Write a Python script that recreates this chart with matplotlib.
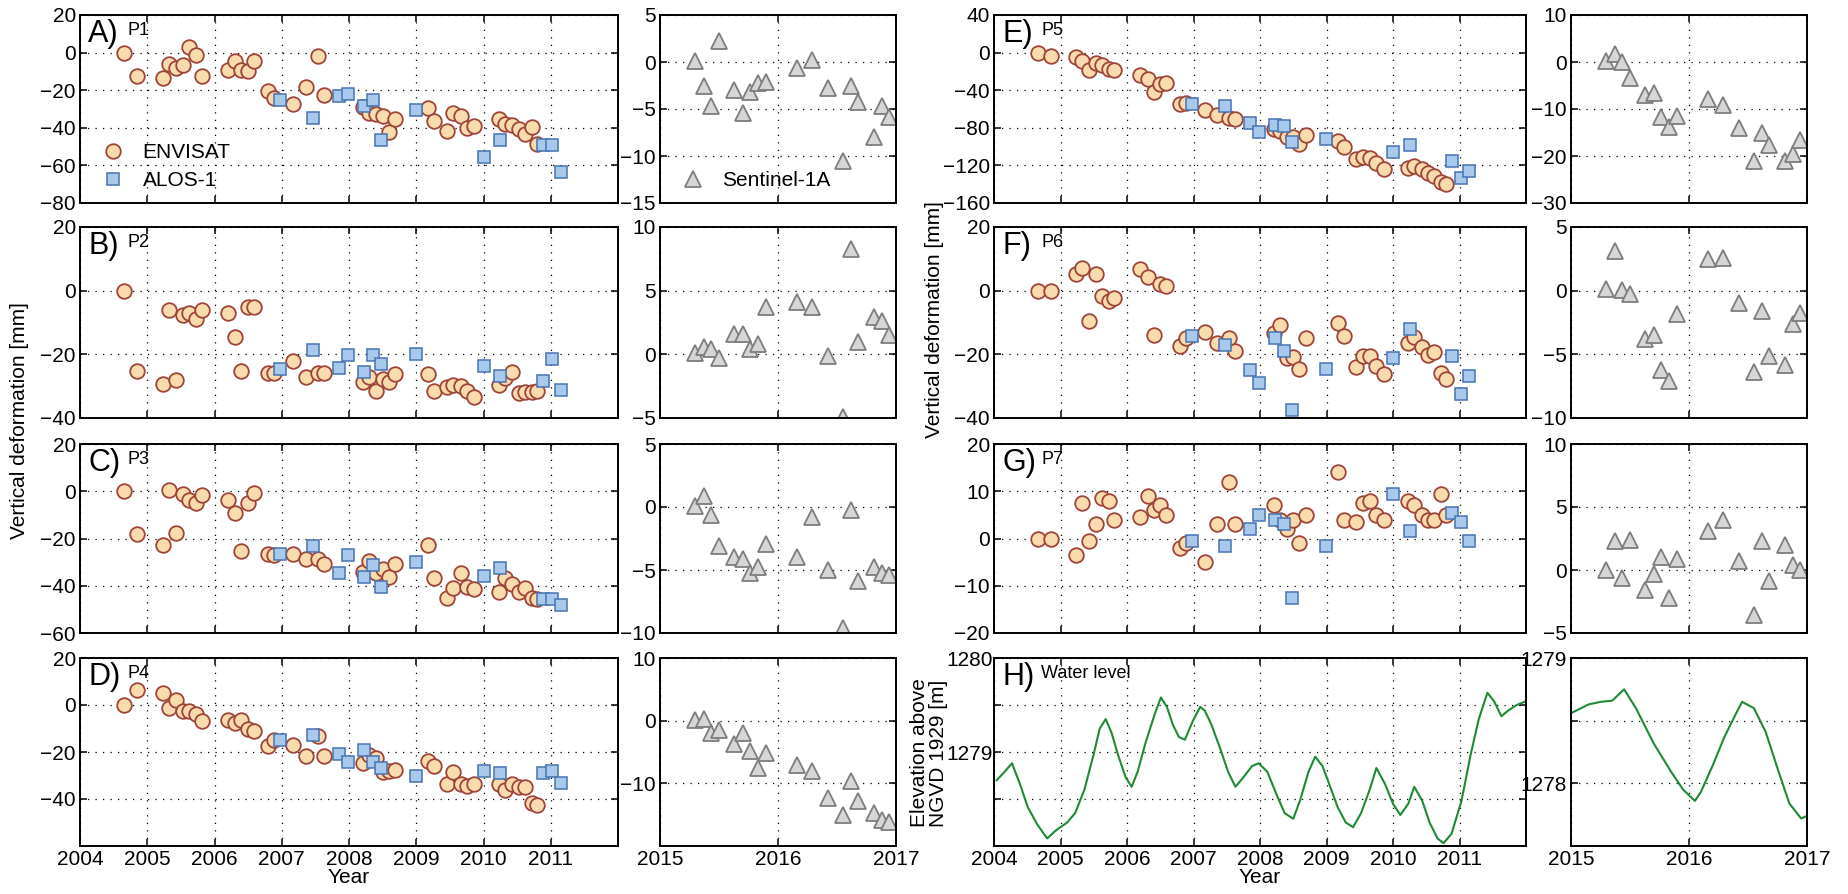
import matplotlib.pyplot as plt

plt.rcParams['font.family'] = ['Liberation Sans', 'DejaVu Sans']

# acquisition times (decimal years)
env_t = [2004.66, 2004.85, 2005.24, 2005.33, 2005.43, 2005.53, 2005.62, 2005.73, 2005.81,
         2006.20, 2006.31, 2006.40, 2006.50, 2006.59, 2006.79, 2006.88, 2007.17, 2007.36,
         2007.54, 2007.63, 2008.21, 2008.30, 2008.40, 2008.50, 2008.59, 2008.69, 2009.18,
         2009.27, 2009.45, 2009.55, 2009.66, 2009.75, 2009.86, 2010.23, 2010.32, 2010.43,
         2010.53, 2010.62, 2010.72, 2010.80]
alos_t = [2006.98, 2007.47, 2007.85, 2007.98, 2008.23, 2008.36, 2008.48, 2008.99,
          2010.00, 2010.25, 2010.88, 2011.02, 2011.15]
s1_t = [2015.30, 2015.37, 2015.43, 2015.50, 2015.63, 2015.70, 2015.76, 2015.83, 2015.90,
        2016.16, 2016.29, 2016.42, 2016.55, 2016.62, 2016.68, 2016.81, 2016.88, 2016.94]

# ENVISAT vertical deformation [mm]
env_p1 = [0, -12.5, -13.3, -6.3, -8, -6.8, 3, -1.4, -12.2, -9.5, -4.7, -9.1, -9.9, -4.7,
          -20.6, -24.4, -27.4, -18.1, -2, -22.6, -28.7, -31.9, -32.8, -33.7, -42.3, -35.5,
          -29.7, -36.4, -41.8, -31.9, -33.7, -40, -39, -35.5, -38.2, -38.7, -40.9, -43.5,
          -39.6, -48.4]
env_p2 = [0, -25.1, -29.4, -6.2, -28.1, -7.8, -7, -8.8, -6.1, -7, -14.4, -25.3, -5, -5,
          -25.8, -25.8, -22.1, -27.1, -26, -26, -28.6, -27, -31.6, -27.6, -28.6, -26.1,
          -26.1, -31.6, -30.2, -29.7, -30.1, -31.6, -33.5, -29.7, -27.3, -25.4, -32.1,
          -31.8, -31.8, -31.6]
env_p3 = [0.1, -17.9, -22.9, 0.4, -17.5, -1, -3.9, -5, -1.4, -3.9, -9.3, -25.1, -5, -0.7,
          -26.4, -26.8, -26.4, -28.7, -28.6, -30.7, -34, -29.4, -34.7, -32.8, -36.4, -30.7,
          -22.9, -36.6, -45, -40.9, -34.7, -40.4, -41.4, -42.6, -36.8, -39.4, -42.8, -41.1,
          -45.2, -45.8]
env_p4 = [0, 6.3, 5.3, -1.1, 2, -2.6, -2.6, -4, -6.6, -6.4, -7.6, -6.4, -10.1, -11.1,
          -17.6, -15.1, -16.9, -21.9, -13.3, -21.9, -24.7, -21.1, -22.6, -28.3, -27.9,
          -27.6, -24, -25.9, -33.6, -28.3, -33.6, -34.4, -33.6, -33.6, -36.1, -33.6, -34.7,
          -34.7, -41.6, -42.6]
env_p5 = [-0.4, -3.6, -4.7, -8.6, -18.3, -11.1, -13.6, -17.2, -18, -23.3, -28, -42.4,
          -33.4, -32.3, -54.9, -53.9, -61, -66.8, -69.3, -70.4, -81.1, -83.7, -89.8, -90.1,
          -96.9, -87.2, -94.4, -100.5, -113.4, -110.6, -112.4, -117.8, -123.9, -123.1,
          -120.3, -124.2, -128.5, -131, -137.5, -140]
env_p6 = [-0.2, -0.2, 5.2, 7.2, -9.5, 5.2, -1.6, -3.4, -2.2, 6.8, 4.3, -13.8, 2.2, 1.6,
          -17.4, -15, -12.9, -16.3, -14.8, -18.8, -13.2, -10.8, -21, -20.8, -24.5, -14.8,
          -10.2, -14.3, -24, -20.6, -20.4, -23.7, -26.3, -16.3, -14.5, -17.7, -20.2, -19.4,
          -26, -27.6]
env_p7 = [0, 0, -3.5, 7.5, -0.5, 3, 8.5, 8, 4, 4.5, 9, 6, 7, 5, -2, -1, -5, 3, 12, 3,
          7, 4, 2, 4, -1, 5, 14, 4, 3.5, 7.5, 8, 5, 4, 8, 7, 5, 4, 4, 9.5, 5]

# ALOS-1 vertical deformation [mm]
alos_p1 = [-25.1, -34.6, -23.3, -22.0, -28.3, -25.3, -46.6, -30.5, -55.5, -46.6, -49.3, -48.9, -63.5]
alos_p2 = [-24.6, -18.5, -24.4, -20.1, -25.4, -20.1, -23.0, -19.9, -23.7, -26.7, -28.4, -21.6, -31.3]
alos_p3 = [-26.5, -23.2, -34.7, -26.9, -36.1, -31.3, -40.5, -30.0, -35.7, -32.5, -45.8, -45.8, -48.3]
alos_p4 = [-14.7, -12.6, -20.9, -24.4, -19.3, -24.4, -26.6, -30.4, -28.0, -29.0, -29.0, -28.0, -33.0]
alos_p5 = [-55.0, -56.7, -74.7, -84.8, -76.5, -77.6, -95.2, -92.0, -106.0, -98.0, -114.8, -133.5, -125.6]
alos_p6 = [-14.2, -17.0, -24.9, -29.0, -14.8, -19.1, -37.6, -24.5, -21.0, -12.0, -20.4, -32.6, -26.9]
alos_p7 = [-0.5, -1.5, 2.0, 5.0, 4.0, 3.0, -12.5, -1.5, 9.5, 1.5, 5.5, 3.5, -0.5]

# Sentinel-1A vertical deformation [mm]
s1_p1 = [0.1, -2.5, -4.7, 2.2, -3.0, -5.4, -3.2, -2.2, -2.1, -0.6, 0.25, -2.8, -10.5, -2.6, -4.3, -8.0, -4.7, -5.8]
s1_p2 = [0.13, 0.6, 0.45, -0.3, 1.6, 1.6, 0.45, 0.8, 3.7, 4.1, 3.7, -0.1, -4.9, 8.25, 0.95, 2.9, 2.65, 1.5]
s1_p3 = [0.08, 0.9, -0.6, -3.1, -4.0, -4.1, -5.2, -4.8, -2.9, -4.0, -0.8, -5.0, -9.6, -0.2, -5.9, -4.75, -5.2, -5.4]
s1_p4 = [0.1, 0.3, -2.0, -1.5, -3.8, -1.9, -4.9, -7.5, -5.2, -7.1, -8.1, -12.4, -15.0, -9.6, -12.8, -14.7, -15.9, -16.2]
s1_p5 = [0.2, 1.6, 0.1, -3.5, -7.0, -6.7, -11.8, -13.9, -11.5, -7.9, -9.1, -14.0, -21.1, -15.0, -17.6, -21.1, -19.6, -16.5]
s1_p6 = [0.1, 3.15, 0.05, -0.3, -3.8, -3.45, -6.2, -7.1, -1.8, 2.5, 2.6, -1.0, -6.4, -1.6, -5.15, -5.8, -2.6, -1.75]
s1_p7 = [0.0, 2.3, -0.6, 2.4, -1.6, -0.3, 1.0, -2.2, 0.9, 3.1, 4.0, 0.7, -3.6, 2.3, -0.9, 2.0, 0.4, 0.0]

# water level [m above NGVD 1929]
wl_t = [2004.04, 2004.16, 2004.27, 2004.39, 2004.51, 2004.65, 2004.80, 2004.92, 2005.10,
        2005.22, 2005.36, 2005.50, 2005.59, 2005.68, 2005.77, 2005.86, 2005.98, 2006.07,
        2006.16, 2006.28, 2006.42, 2006.51, 2006.60, 2006.69, 2006.78, 2006.87, 2006.99,
        2007.10, 2007.17, 2007.27, 2007.40, 2007.52, 2007.63, 2007.75, 2007.88, 2007.98,
        2008.11, 2008.23, 2008.37, 2008.50, 2008.60, 2008.73, 2008.83, 2008.94, 2009.04,
        2009.17, 2009.29, 2009.40, 2009.52, 2009.65, 2009.75, 2009.88, 2010.00, 2010.11,
        2010.23, 2010.32, 2010.44, 2010.55, 2010.67, 2010.76, 2010.88, 2011.03, 2011.17,
        2011.29, 2011.42, 2011.52, 2011.63, 2011.73, 2011.86, 2012.00]
wl_h = [1278.70, 1278.79, 1278.88, 1278.66, 1278.41, 1278.23, 1278.08, 1278.16, 1278.25,
        1278.35, 1278.60, 1278.98, 1279.25, 1279.35, 1279.20, 1278.98, 1278.73, 1278.63,
        1278.79, 1279.10, 1279.41, 1279.58, 1279.48, 1279.29, 1279.16, 1279.13, 1279.33,
        1279.48, 1279.44, 1279.29, 1279.04, 1278.79, 1278.63, 1278.73, 1278.85, 1278.88,
        1278.79, 1278.58, 1278.35, 1278.29, 1278.48, 1278.79, 1278.95, 1278.85, 1278.66,
        1278.41, 1278.25, 1278.20, 1278.35, 1278.60, 1278.83, 1278.66, 1278.45, 1278.33,
        1278.45, 1278.63, 1278.48, 1278.25, 1278.08, 1278.03, 1278.13, 1278.48, 1278.98,
        1279.35, 1279.63, 1279.54, 1279.38, 1279.44, 1279.50, 1279.54]
wl2_t = [2015.00, 2015.15, 2015.25, 2015.35, 2015.45, 2015.55, 2015.70, 2015.85, 2015.95,
         2016.05, 2016.10, 2016.20, 2016.30, 2016.40, 2016.45, 2016.55, 2016.65, 2016.75,
         2016.85, 2016.95, 2017.00]
wl2_h = [1278.56, 1278.63, 1278.65, 1278.66, 1278.75, 1278.60, 1278.32, 1278.09, 1277.95,
         1277.86, 1277.93, 1278.14, 1278.37, 1278.56, 1278.65, 1278.60, 1278.41, 1278.12,
         1277.84, 1277.72, 1277.74]

env_style = dict(ls='none', marker='o', ms=10.5, mfc='#f9dbad', mec='#a0443a', mew=1.3)
alos_style = dict(ls='none', marker='s', ms=8.5, mfc='#a9c9ec', mec='#4673b3', mew=1.1)
s1_style = dict(ls='none', marker='^', ms=12, mfc='#d6d6d6', mec='#7d7d7d', mew=1.3)
green = '#1f8a36'
FS = 15

W = 1848
H = 894


def box(x0, x1, y0, y1):
    return [x0 / W, 1 - y1 / H, (x1 - x0) / W, (y1 - y0) / H]


def style(ax, xlim, xticks, ylim, yticks, ylabels=None, show_x=False, pad=3):
    ax.set_xlim(xlim)
    ax.set_xticks(xticks)
    ax.set_ylim(ylim)
    ax.set_yticks(yticks)
    if ylabels is not None:
        ax.set_yticklabels(ylabels)
    ax.grid(True, color='k', linestyle=(0, (1, 5)), lw=0.9)
    ax.tick_params(direction='in', top=True, right=True, length=5, width=1.1,
                   labelsize=FS, pad=3)
    ax.tick_params(axis='y', pad=pad)
    if not show_x:
        ax.set_xticklabels([])
    for s in ax.spines.values():
        s.set_linewidth(1.4)


def tag(ax, letter, name):
    ax.annotate(letter, (0, 1), xycoords='axes fraction', xytext=(6, -3),
                textcoords='offset points', va='top', ha='left', fontsize=22)
    ax.annotate(name, (0, 1), xycoords='axes fraction', xytext=(34, -5),
                textcoords='offset points', va='top', ha='left', fontsize=13)


fig = plt.figure(figsize=(W / 100, H / 100), dpi=100)

rows = [(15, 203), (227, 418), (444, 633), (658, 846)]
wide_x = [(80, 618), (994, 1526)]
narrow_x = [(660, 896), (1571, 1807)]
years = list(range(2004, 2012))

panels = [
    (0, 0, 'A)', 'P1', env_p1, alos_p1, s1_p1, (-80, 20), range(-80, 21, 20), (-15, 5), range(-15, 6, 5)),
    (0, 1, 'B)', 'P2', env_p2, alos_p2, s1_p2, (-40, 20), range(-40, 21, 20), (-5, 10), range(-5, 11, 5)),
    (0, 2, 'C)', 'P3', env_p3, alos_p3, s1_p3, (-60, 20), range(-60, 21, 20), (-10, 5), range(-10, 6, 5)),
    (0, 3, 'D)', 'P4', env_p4, alos_p4, s1_p4, (-60, 20), range(-40, 21, 20), (-20, 10), range(-10, 11, 10)),
    (1, 0, 'E)', 'P5', env_p5, alos_p5, s1_p5, (-160, 40), range(-160, 41, 40), (-30, 10), range(-30, 11, 10)),
    (1, 1, 'F)', 'P6', env_p6, alos_p6, s1_p6, (-40, 20), range(-40, 21, 20), (-10, 5), range(-10, 6, 5)),
    (1, 2, 'G)', 'P7', env_p7, alos_p7, s1_p7, (-20, 20), range(-20, 21, 10), (-5, 10), range(-5, 11, 5)),
]

for col, row, letter, name, env, alos, s1, ylim, yt, ylim2, yt2 in panels:
    bottom = row == 3
    ax = fig.add_axes(box(*wide_x[col], *rows[row]))
    h1, = ax.plot(env_t, env, **env_style)
    h2, = ax.plot(alos_t, alos, **alos_style)
    style(ax, (2004, 2012), years, ylim, list(yt), show_x=bottom)
    tag(ax, letter, name)
    if bottom:
        ax.set_xlabel('Year', fontsize=FS, labelpad=-1)
    if letter == 'A)':
        ax.legend([h1, h2], ['ENVISAT', 'ALOS-1'], loc='lower left', frameon=False,
                  fontsize=FS, handletextpad=0.4, labelspacing=0.45,
                  borderaxespad=0.2)

    ax2 = fig.add_axes(box(*narrow_x[col], *rows[row]))
    h3, = ax2.plot(s1_t, s1, **s1_style)
    style(ax2, (2015, 2017), [2015, 2016, 2017], ylim2, list(yt2), show_x=bottom)
    if letter == 'A)':
        ax2.legend([h3], ['Sentinel-1A'], loc='lower left', frameon=False,
                   fontsize=FS, handletextpad=0.4, borderaxespad=0.2)

# water level panel
ax = fig.add_axes(box(*wide_x[1], *rows[3]))
ax.plot(wl_t, wl_h, color=green, lw=1.5)
style(ax, (2004, 2012), years, (1278, 1280), [1278.5, 1279, 1279.5, 1280],
      ylabels=['', '1279', '', '1280'], show_x=True, pad=1)
ax.set_xlabel('Year', fontsize=FS, labelpad=-1)
ax.annotate('H)', (0, 1), xycoords='axes fraction', xytext=(6, -3),
            textcoords='offset points', va='top', ha='left', fontsize=22)
ax.annotate('Water level', (0, 1), xycoords='axes fraction', xytext=(34, -5),
            textcoords='offset points', va='top', ha='left', fontsize=13)

ax2 = fig.add_axes(box(*narrow_x[1], *rows[3]))
ax2.plot(wl2_t, wl2_h, color=green, lw=1.5)
style(ax2, (2015, 2017), [2015, 2016, 2017], (1277.5, 1279), [1278, 1278.5, 1279],
      ylabels=['1278', '', '1279'], show_x=True)

fig.text(20 / W, 1 - 421 / H, 'Vertical deformation [mm]', rotation=90,
         ha='center', va='center', fontsize=FS)
fig.text(934 / W, 1 - 320 / H, 'Vertical deformation [mm]', rotation=90,
         ha='center', va='center', fontsize=FS)
fig.text(929 / W, 1 - 753 / H, 'Elevation above\nNGVD 1929 [m]', rotation=90,
         ha='center', va='center', fontsize=FS, linespacing=1.05)

fig.savefig('out.png', dpi=100)
